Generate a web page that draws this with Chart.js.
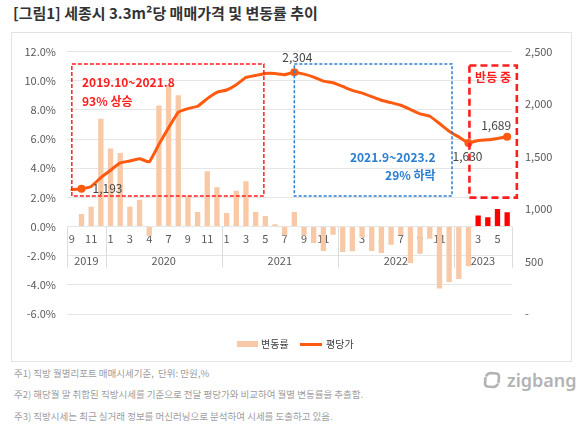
<!DOCTYPE html>
<html><head><meta charset="utf-8">
<script src="https://cdn.jsdelivr.net/npm/chart.js@4.4.0/dist/chart.umd.min.js"></script>
<style>
body{margin:0;width:580px;height:428px;background:#fff;position:relative;overflow:hidden;font-family:"Noto Sans CJK KR","Noto Sans",sans-serif;}
#title{position:absolute;left:13px;top:3px;font-size:15px;font-weight:700;color:#333;white-space:nowrap;line-height:20px}
#card{position:absolute;left:11px;top:32px;width:561px;height:330px;border:1px solid #e4e4e4;box-sizing:border-box}
#wrap{position:absolute;left:11px;top:32px;width:561px;height:330px}
.note{position:absolute;left:14px;font-size:9.5px;color:#9d9d9d;white-space:nowrap;line-height:12px}
.lg{position:absolute;font-size:10px;color:#404040;line-height:14px;top:337px;white-space:nowrap}
#logo{position:absolute;left:482px;top:369px;height:22px;display:flex;align-items:center}
#logo span{font-family:"Noto Sans",sans-serif;font-size:18px;font-weight:600;color:#b3b3b3;margin-left:5px;line-height:22px}
</style></head>
<body>
<div id="title">[그림1] 세종시 3.3m²당 매매가격 및 변동률 추이</div>
<div id="card"></div>
<div id="wrap"><canvas id="c"></canvas></div>
<div style="position:absolute;left:237px;top:341px;width:21px;height:6px;background:#f8c9a7"></div>
<div class="lg" style="left:261px">변동률</div>
<div style="position:absolute;left:300px;top:343px;width:22px;height:3px;background:#ff5a10"></div>
<div class="lg" style="left:326px">평당가</div>
<div id="logo"><svg width="20" height="20" viewBox="0 0 20 20"><path d="M4.5 5.5 Q6 3 9 3 L14.5 3.5 Q17 4 17 7 L16.5 12" fill="none" stroke="#b3b3b3" stroke-width="2.6" stroke-linecap="round"/><path d="M15.5 14.5 Q14 17 11 17 L5.5 16.5 Q3 16 3 13 L3.5 8" fill="none" stroke="#b3b3b3" stroke-width="2.6" stroke-linecap="round"/></svg><span>zigbang</span></div>
<div class="note" style="top:367px">주1) 직방 월별리포트 매매시세기준,&nbsp; 단위: 만원,%</div>
<div class="note" style="top:388px">주2) 해당월 말 취합된 직방시세를 기준으로 전달 평당가와 비교하여 월별 변동률을 추출함.</div>
<div class="note" style="top:410px">주3) 직방시세는 최근 실거래 정보를 머신러닝으로 분석하여 시세를 도출하고 있음.</div>
<script>
// ---- data ----
const categories = ['2019.9','2019.10','2019.11','2019.12',
 '2020.1','2020.2','2020.3','2020.4','2020.5','2020.6','2020.7','2020.8','2020.9','2020.10','2020.11','2020.12',
 '2021.1','2021.2','2021.3','2021.4','2021.5','2021.6','2021.7','2021.8','2021.9','2021.10','2021.11','2021.12',
 '2022.1','2022.2','2022.3','2022.4','2022.5','2022.6','2022.7','2022.8','2022.9','2022.10','2022.11','2022.12',
 '2023.1','2023.2','2023.3','2023.4','2023.5','2023.6'];
const monthTicks = ['9','11','1','3','4','7','9','11','1','3','5','7','9','11','1','3','5','7','9','11','1','3','5'];
const years = ['2019','2020','2021','2022','2023'];
const yearCounts = [4,12,12,12,6];
const changeRate = [null,0.86,1.36,7.4,5.35,5.05,1.36,1.84,-0.65,8.3,9.7,9.0,2.1,1.0,3.8,2.7,
 0.93,2.45,3.1,1.0,0.73,0.15,-0.62,1.0,-0.6,-1.13,-1.68,-0.57,
 -1.75,-1.7,-0.75,-1.68,-1.82,-1.25,-0.6,-2.5,-1.87,-0.84,-4.25,-3.8,
 -3.6,-2.73,0.75,0.64,1.2,0.98];
const pricePerPyeong = [1185,1193,1215,1300,1370,1439,1458,1480,1449,1616,1774,1922,1957,1979,2052,2112,
 2134,2185,2254,2273,2292,2292,2280,2304,2285,2257,2219,2203,
 2168,2131,2105,2071,2036,2014,1989,1948,1906,1884,1815,1742,
 1686,1630,1654,1660,1673,1689];
const reboundStart = 42;           // 2023.3~ : red bars
const labelledPoints = [1,23,41,45];
const leftTicks = {min:-6,max:12,step:2};
const rightTicks = {min:0,max:2500,step:500};

// ---- styles / annotations ----
const FONT = '"Noto Sans CJK KR","Noto Sans",sans-serif';
const PEACH = '#f8c9a7', ORANGE = '#ff5a10', RED = '#ff1e1e', BLUE = '#2a7ed2';
const boxes = [
 {x1:0, x2:19.85, y1:11.15, y2:2.1, color:RED, width:1.5, dash:[4,2]},
 {x1:23, x2:39.3, y1:11.15, y2:2.1, color:BLUE, width:1.5, dash:[3,2]},
 {x1:41.1, x2:46.0, y1:11.05, y2:1.98, color:RED, width:2.6, dash:[7,4]}
];
const notes = [
 {t:'2019.10~2021.8', x:1.05, y:9.88, align:'left', color:RED, size:12},
 {t:'93% 상승', x:1.05, y:8.59, align:'left', color:RED, size:12},
 {t:'2021.9~2023.2', x:37.6, y:4.77, align:'right', color:BLUE, size:12},
 {t:'29% 하락', x:37.6, y:3.48, align:'right', color:BLUE, size:12},
 {t:'반등 중', x:43.54, y:10.22, align:'center', color:RED, size:12}
];
const labelOffsets = {1:[26,0], 23:[3,-15], 41:[-1,14], 45:[-11,-11]};

Chart.defaults.font.family = FONT;

const yearPlugin = {
 id:'years',
 afterDatasetsDraw(chart){
  const {ctx, scales:{x,y}} = chart;
  const y0 = y.getPixelForValue(0);
  const bounds = [-0.5]; let s = 0;
  yearCounts.forEach(c => { s += c; bounds.push(s - 0.5); });
  ctx.save();
  ctx.strokeStyle = '#dcdcdc'; ctx.lineWidth = 1;
  bounds.forEach(b => { const px = Math.round(x.getPixelForValue(b)) + 0.5;
   ctx.beginPath(); ctx.moveTo(px, y0); ctx.lineTo(px, y0 + 41); ctx.stroke(); });
  ctx.fillStyle = '#595959'; ctx.font = '11px ' + FONT; ctx.textAlign = 'center'; ctx.textBaseline = 'middle';
  years.forEach((yr,k) => { const m = (x.getPixelForValue(bounds[k]) + x.getPixelForValue(bounds[k+1]))/2;
   ctx.fillText(yr, m, y0 + 34); });
  ctx.restore();
 }
};
const annoPlugin = {
 id:'anno',
 afterDraw(chart){
  const {ctx, scales:{x,y}} = chart;
  ctx.save();
  boxes.forEach(b => {
   ctx.strokeStyle = b.color; ctx.lineWidth = b.width; ctx.setLineDash(b.dash);
   const x1 = x.getPixelForValue(b.x1), x2 = x.getPixelForValue(b.x2), y1 = y.getPixelForValue(b.y1), y2 = y.getPixelForValue(b.y2);
   ctx.strokeRect(x1, y1, x2 - x1, y2 - y1);
  });
  ctx.setLineDash([]);
  ctx.textBaseline = 'middle';
  notes.forEach(n => {
   ctx.fillStyle = n.color; ctx.font = 'bold ' + n.size + 'px ' + FONT; ctx.textAlign = n.align;
   ctx.fillText(n.t, x.getPixelForValue(n.x), y.getPixelForValue(n.y));
  });
  const meta = chart.getDatasetMeta(1);
  ctx.fillStyle = '#444'; ctx.font = '12px ' + FONT; ctx.textAlign = 'center';
  labelledPoints.forEach(i => {
   const p = meta.data[i]; const o = labelOffsets[i];
   ctx.fillText(pricePerPyeong[i].toLocaleString('en-US'), p.x + o[0], p.y + o[1]);
  });
  ctx.restore();
 }
};

new Chart(document.getElementById('c'), {
 data:{
  labels: categories,
  datasets:[
   {type:'bar', label:'변동률', data:changeRate, yAxisID:'y', order:2,
    backgroundColor: changeRate.map((v,i) => i >= reboundStart ? '#ff0000' : PEACH),
    barPercentage:0.55, categoryPercentage:1.0},
   {type:'line', label:'평당가', data:pricePerPyeong, yAxisID:'y1', order:1,
    borderColor:ORANGE, backgroundColor:ORANGE, borderWidth:3, tension:0.1,
    borderJoinStyle:'round', borderCapStyle:'round',
    pointRadius: pricePerPyeong.map((v,i) => labelledPoints.includes(i) ? 4 : 0),
    pointBackgroundColor:ORANGE, pointBorderWidth:0}
  ]
 },
 options:{
  responsive:true, maintainAspectRatio:false, animation:false, devicePixelRatio:1,
  layout:{padding:{top:18, bottom:48, left:0, right:0}},
  plugins:{legend:{display:false}, tooltip:{enabled:false}},
  scales:{
   x:{type:'category', offset:true, position:{y:0}, z:1,
      grid:{display:false, drawTicks:false}, border:{display:false},
      ticks:{autoSkip:false, maxRotation:0, minRotation:0, padding:6, color:'#595959', font:{size:11},
        callback:(v,i) => i % 2 === 0 ? monthTicks[i/2] : ''}},
   y:{position:'left', min:leftTicks.min, max:leftTicks.max,
      grid:{color:'#e6e6e6', drawTicks:false}, border:{display:false},
      ticks:{stepSize:leftTicks.step, padding:11, color:'#595959', font:{size:11},
        callback:v => v.toFixed(1) + '%'},
      afterFit:s => { s.width = 56; }},
   y1:{position:'right', min:rightTicks.min, max:rightTicks.max,
      grid:{display:false, drawTicks:false}, border:{display:false},
      ticks:{stepSize:rightTicks.step, padding:13, color:'#595959', font:{size:11},
        callback:v => v === 0 ? '-' : v.toLocaleString('en-US')},
      afterFit:s => { s.width = 60; }}
  }
 },
 plugins:[yearPlugin, annoPlugin]
});
</script>
</body></html>
